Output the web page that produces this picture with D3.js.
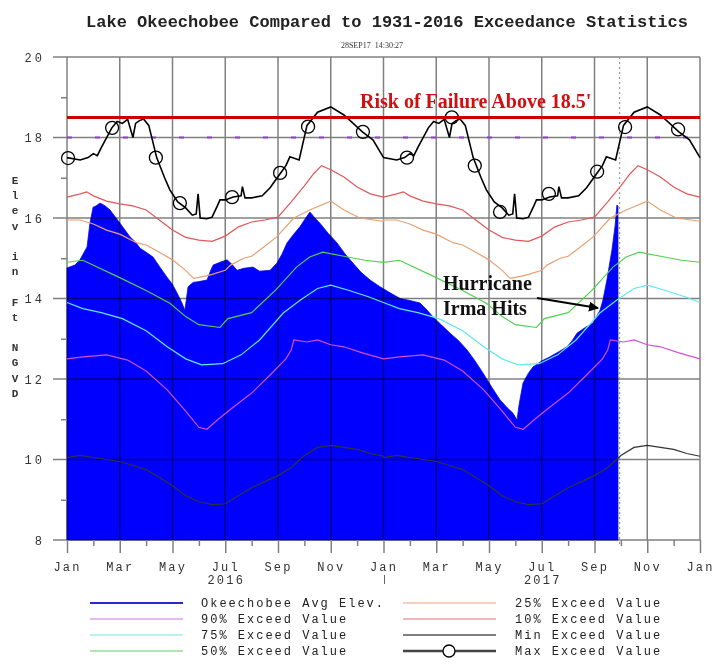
<!DOCTYPE html>
<html><head><meta charset="utf-8">
<script src="https://cdn.jsdelivr.net/npm/d3@7"></script>
<style>body{margin:0;background:#fff}svg{display:block}text{white-space:pre}</style>
</head><body><svg id="c" width="720" height="667"></svg>
<script>
// ---------- DATA ----------
const titleText = "Lake Okeechobee Compared to 1931-2016 Exceedance Statistics";
const stampText = "28SEP17  14:30:27";
const monthLabels = ["Jan","Mar","May","Jul","Sep","Nov","Jan","Mar","May","Jul","Sep","Nov","Jan"];
const majorMonths = [0,2,4,6,8,10,12,14,16,18,20,22,24];
const minorMonths = [1,3,5,7,9,11,13,15,17,19,21,23];
const yearLabels = [[6,"2016"],[18,"2017"]];
const yMajor = [8,10,12,14,16,18,20];
const yMinor = [9,11,13,15,17,19];
const yTitle = "Elev in Ft NGVD";
const yearOffsets = [0,12];

// Okeechobee average elevation (months since Jan 1 2016, ft)
const avgElev = [[0,14.76],[0.3,14.83],[0.49,14.96],[0.76,15.28],[0.87,15.87],[0.99,16.27],[1.1,16.3],[1.25,16.37],[1.45,16.3],[1.63,16.2],[2.01,15.87],[2.2,15.7],[2.39,15.53],[2.6,15.4],[2.77,15.25],[3.0,15.15],[3.26,15.03],[3.5,14.8],[3.79,14.53],[4.0,14.35],[4.17,14.14],[4.35,13.9],[4.47,13.71],[4.52,13.95],[4.59,14.29],[4.78,14.4],[5.0,14.42],[5.31,14.46],[5.45,14.7],[5.54,14.83],[5.8,14.9],[6.07,14.96],[6.25,14.85],[6.45,14.7],[6.7,14.75],[7.05,14.78],[7.3,14.68],[7.7,14.7],[7.96,14.88],[8.15,15.1],[8.34,15.38],[8.6,15.6],[8.83,15.78],[9.0,15.95],[9.21,16.15],[9.4,16.0],[9.59,15.87],[9.9,15.62],[10.24,15.38],[10.55,15.1],[10.84,14.88],[11.15,14.65],[11.49,14.46],[11.85,14.3],[12.25,14.14],[12.63,14.0],[13.0,13.95],[13.38,13.89],[13.6,13.75],[13.88,13.54],[14.2,13.34],[14.52,13.14],[14.85,12.95],[15.17,12.72],[15.47,12.45],[15.77,12.15],[16.1,11.8],[16.42,11.48],[16.7,11.28],[16.91,11.15],[17.06,10.98],[17.15,11.4],[17.29,11.9],[17.5,12.15],[17.67,12.3],[18.0,12.45],[18.31,12.55],[18.65,12.68],[18.96,12.8],[19.15,12.95],[19.34,13.14],[19.65,13.28],[19.94,13.39],[20.21,13.71],[20.32,13.96],[20.47,14.46],[20.66,15.2],[20.78,15.8],[20.85,16.32],[20.89,16.3]];

// Annual exceedance statistics (month of year, ft)
const p90 = [[0,12.5],[0.6,12.55],[1.5,12.6],[2.3,12.47],[3,12.2],[3.8,11.73],[4.5,11.2],[5,10.8],[5.3,10.75],[5.7,10.98],[6.3,11.3],[7,11.65],[7.7,12.1],[8.3,12.5],[8.5,12.72],[8.6,12.97],[9.1,12.92],[9.5,12.97],[10,12.85],[10.5,12.8],[11.2,12.65],[12,12.5]];
const p75 = [[0,13.9],[0.6,13.75],[1.3,13.65],[2.1,13.5],[3,13.2],[3.8,12.8],[4.5,12.5],[5.1,12.35],[5.9,12.38],[6.6,12.6],[7.3,12.97],[8.2,13.64],[8.85,13.96],[9.5,14.25],[10,14.33],[10.7,14.2],[11.4,14.05],[12,13.9]];
const p50 = [[0,14.9],[0.6,14.95],[1.9,14.55],[3,14.2],[3.9,13.88],[4.5,13.55],[5,13.35],[5.8,13.28],[6.1,13.5],[7,13.65],[7.9,14.2],[8.7,14.78],[9.2,15.03],[9.7,15.15],[10.5,15.05],[11.3,14.95],[12,14.9]];
const p25 = [[0,15.95],[0.5,15.95],[1,15.85],[1.5,15.7],[2,15.6],[2.65,15.38],[3,15.33],[3.5,15.15],[4,14.96],[4.5,14.7],[4.8,14.5],[5.2,14.55],[5.5,14.6],[6,14.7],[6.2,14.83],[6.7,15.0],[7,15.05],[7.5,15.3],[7.95,15.53],[8.6,16.0],[9.2,16.2],[10,16.42],[10.5,16.2],[11.1,16.0],[12,15.92]];
const p10 = [[0,16.52],[0.5,16.6],[0.75,16.65],[1,16.55],[1.5,16.42],[2,16.35],[2.5,16.3],[3,16.2],[3.5,15.95],[4,15.7],[4.5,15.52],[5,15.45],[5.5,15.42],[6,15.55],[6.5,15.78],[7,15.9],[7.5,15.95],[8,16.02],[8.5,16.4],[9,16.8],[9.35,17.1],[9.65,17.3],[10,17.2],[10.5,17.02],[11,16.77],[11.5,16.6],[12,16.52]];
const pMin = [[0,10.05],[0.5,10.1],[1,10.05],[1.5,10.0],[2,9.95],[2.5,9.85],[3,9.75],[3.5,9.55],[4,9.35],[4.5,9.1],[5,8.95],[5.5,8.88],[6,8.9],[6.5,9.1],[7,9.3],[7.5,9.45],[8,9.6],[8.5,9.8],[9,10.1],[9.5,10.3],[10,10.35],[10.5,10.3],[11,10.25],[11.5,10.15],[12,10.08]];
const pMax = [[0,17.5],[0.5,17.44],[0.8,17.5],[1.0,17.6],[1.15,17.55],[1.3,17.75],[1.7,18.24],[1.9,18.4],[2.1,18.35],[2.3,18.45],[2.5,18.0],[2.6,18.35],[2.75,18.42],[2.9,18.46],[3.1,18.3],[3.4,17.5],[3.7,17.0],[3.9,16.7],[4.2,16.4],[4.5,16.25],[4.75,16.07],[4.9,16.1],[4.97,16.6],[5.05,16.0],[5.3,15.98],[5.5,16.02],[5.7,16.3],[5.8,16.45],[6.0,16.45],[6.3,16.52],[6.6,16.55],[6.65,16.78],[6.75,16.5],[7.0,16.5],[7.4,16.55],[7.7,16.75],[8.1,17.12],[8.3,17.3],[8.45,17.52],[8.8,17.44],[9.1,18.3],[9.5,18.63],[10.0,18.76],[10.5,18.56],[11.2,18.14],[11.6,17.94],[12,17.5]];
// circle markers on the max line (months since Jan 2016, ft)
const maxMarkers = [[0.04,17.49],[1.71,18.24],[3.37,17.5],[4.28,16.37],[6.26,16.52],[8.08,17.12],[9.14,18.27],[11.22,18.14],[12.89,17.5],[14.59,18.5],[15.46,17.3],[16.42,16.15],[18.27,16.6],[20.1,17.15],[21.16,18.26],[23.17,18.2]];

const riskLevel = 18.5;
const refLevel = 18.0;
const dataDate = 20.95;
const riskText = "Risk of Failure Above 18.5'";
const noteLines = ["Hurricane","Irma Hits"];
const legendItems = [
  ["Okeechobee Avg Elev.","#2a2ac8",2,false],
  ["90% Exceed Value","#d070e0",1.2,false],
  ["75% Exceed Value","#70e8e8",1.2,false],
  ["50% Exceed Value","#60d060",1.2,false],
  ["25% Exceed Value","#f0a080",1.2,false],
  ["10% Exceed Value","#e07070",1.2,false],
  ["Min Exceed Value","#555",1.5,false],
  ["Max Exceed Value","#444",2.5,true]
];

// ---------- DRAW ----------
const svg = d3.select("#c");
const x = d3.scaleLinear([0,24],[67,700]);
const y = d3.scaleLinear([8,20],[540,57]);
const mono = "'Liberation Mono','DejaVu Sans Mono',monospace";
const serif = "'Liberation Serif','Times New Roman',serif";
const twoYears = s => yearOffsets.flatMap(o => s.map(d => [d[0]+o, d[1]]));

svg.append("text").attr("x",387).attr("y",27).attr("text-anchor","middle")
  .attr("font-family",mono).attr("font-size",17).attr("font-weight","bold").attr("fill","#222").text(titleText);
svg.append("text").attr("x",372).attr("y",48).attr("text-anchor","middle")
  .attr("font-family",serif).attr("font-size",8).attr("fill","#333").text(stampText);

// blue area
svg.append("path").datum(avgElev)
  .attr("d", d3.area().x(d=>x(d[0])).y0(y(8)).y1(d=>y(d[1])))
  .attr("fill","#0000ff").attr("stroke","#0a0ae0").attr("stroke-width",0.8);

// grid (multiply over fill)
const grid = svg.append("g").style("mix-blend-mode","multiply").attr("stroke","#808080").attr("stroke-width",1.5);
grid.selectAll(".h").data(yMajor).join("line").attr("x1",53).attr("x2",700).attr("y1",d=>y(d)).attr("y2",d=>y(d));
grid.selectAll(".v").data(majorMonths).join("line").attr("x1",d=>x(d)).attr("x2",d=>x(d)).attr("y1",y(20)).attr("y2",y(8));

// x axis ticks
const xMaj = svg.append("g").attr("transform",`translate(0,${y(8)})`)
  .call(d3.axisBottom(x).tickValues(majorMonths).tickSize(13).tickPadding(9).tickFormat((d,i)=>monthLabels[i]));
const xMin = svg.append("g").attr("transform",`translate(0,${y(8)})`)
  .call(d3.axisBottom(x).tickValues(minorMonths).tickSize(6).tickFormat(""));
const yMaj = svg.append("g").attr("transform",`translate(${x(0)},0)`)
  .call(d3.axisLeft(y).tickValues(yMajor).tickSize(0).tickPadding(22).tickFormat(d=>String(d)));
const yMin = svg.append("g").attr("transform",`translate(${x(0)},0)`)
  .call(d3.axisLeft(y).tickValues(yMinor).tickSize(6).tickFormat(""));
[xMaj,xMin,yMaj,yMin].forEach(g=>{
  g.select(".domain").remove();
  g.selectAll("line").attr("stroke","#808080").attr("stroke-width",1.5);
  g.selectAll("text").attr("font-family",mono).attr("font-size",12).attr("letter-spacing","2.2px").attr("fill","#333");
});
yMaj.selectAll("text").attr("letter-spacing","3px").attr("dy","0.35em");
svg.append("g").selectAll("text").data(yearLabels).join("text")
  .attr("x",d=>x(d[0])+1).attr("y",584).attr("text-anchor","middle")
  .attr("font-family",mono).attr("font-size",12).attr("letter-spacing","2.2px").attr("fill","#333").text(d=>d[1]);
svg.append("line").attr("x1",x(12)+1).attr("x2",x(12)+1).attr("y1",575).attr("y2",584).attr("stroke","#666").attr("stroke-width",1);

// y title stacked
svg.append("g").selectAll("text").data(yTitle.split("")).join("text")
  .attr("x",15).attr("y",(d,i)=>184+i*15.2).attr("text-anchor","middle")
  .attr("font-family",mono).attr("font-size",11).attr("font-weight","bold").attr("fill","#333").text(d=>d);

// reference dashed line & data-date line
svg.append("line").attr("x1",x(0)).attr("x2",x(24)).attr("y1",y(refLevel)).attr("y2",y(refLevel))
  .attr("stroke","#9040c8").attr("stroke-width",2).attr("stroke-dasharray","5,23");
svg.append("line").attr("x1",x(dataDate)).attr("x2",x(dataDate)).attr("y1",y(20)).attr("y2",y(8)+6)
  .attr("stroke","#999").attr("stroke-width",1.2).attr("stroke-dasharray","2,3");

// statistic lines
const line = d3.line().x(d=>x(d[0])).y(d=>y(d[1]));
const stats = [[pMin,"#333",1.2],[p90,"#d050d8",1.2],[p75,"#60e8f0",1.2],[p50,"#50d050",1.2],[p25,"#e8a070",1.2],[p10,"#e05858",1.2],[pMax,"#000",1.6]];
stats.forEach(([s,c,w])=>{
  svg.append("path").datum(twoYears(s)).attr("d",line).attr("fill","none").attr("stroke",c).attr("stroke-width",w);
});
svg.append("g").selectAll("circle").data(maxMarkers).join("circle")
  .attr("cx",d=>x(d[0])).attr("cy",d=>y(d[1])).attr("r",6.5).attr("fill","none").attr("stroke","#000").attr("stroke-width",1.3);

// risk line + text
svg.append("line").attr("x1",x(0)).attr("x2",x(24)).attr("y1",y(riskLevel)).attr("y2",y(riskLevel))
  .attr("stroke","#c80000").attr("stroke-width",3);
svg.append("text").attr("x",360).attr("y",108).attr("font-family",serif).attr("font-weight","bold")
  .attr("font-size",20).attr("fill","#d01010").text(riskText);

// hurricane note
svg.append("g").selectAll("text").data(noteLines).join("text")
  .attr("x",443).attr("y",(d,i)=>290+i*25).attr("font-family",serif).attr("font-weight","bold")
  .attr("font-size",20).attr("fill","#111").text(d=>d);
svg.append("defs").append("marker").attr("id","ah").attr("viewBox","0 0 10 10").attr("refX",9).attr("refY",5)
  .attr("markerWidth",5).attr("markerHeight",5).attr("orient","auto")
  .append("path").attr("d","M0,0L10,5L0,10z").attr("fill","#000");
svg.append("line").attr("x1",537).attr("y1",298).attr("x2",598).attr("y2",308)
  .attr("stroke","#000").attr("stroke-width",2).attr("marker-end","url(#ah)");

// legend
const lg = svg.append("g");
legendItems.forEach((it,i)=>{
  const col = Math.floor(i/4), row = i%4;
  const lx = col ? 403 : 90, tx = col ? 515 : 201, yy = 603 + row*16;
  lg.append("line").attr("x1",lx).attr("x2",lx+93).attr("y1",yy).attr("y2",yy).attr("stroke",it[1]).attr("stroke-width",it[2]);
  if (it[3]) lg.append("circle").attr("cx",lx+46).attr("cy",yy).attr("r",6).attr("fill","#fff").attr("stroke","#000").attr("stroke-width",1.3);
  lg.append("text").attr("x",tx).attr("y",yy+4).attr("font-family",mono).attr("font-size",12)
    .attr("letter-spacing","2px").attr("fill","#222").text(it[0]);
});
</script></body></html>
